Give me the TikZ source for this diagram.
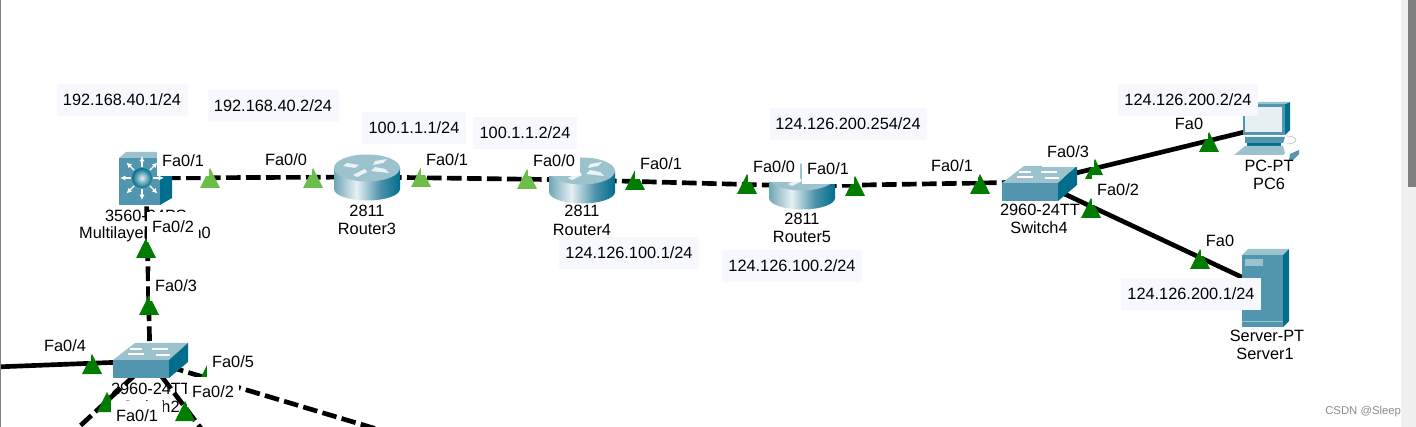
\documentclass[tikz,border=0pt]{standalone}
\usepackage{fontspec}
\setmainfont{Liberation Sans}
\usetikzlibrary{arrows.meta}
\definecolor{c1}{HTML}{9CC2CE}
\definecolor{c2}{HTML}{5196AE}
\definecolor{c3}{HTML}{4C92AA}
\definecolor{c4}{HTML}{006E8C}
\definecolor{c5}{HTML}{6FA6B6}
\definecolor{c6}{HTML}{E6F0F3}
\definecolor{ipbg}{HTML}{F7F8FE}
\definecolor{ltg}{HTML}{6CBE4B}
\definecolor{dkg}{HTML}{007C00}
\pgfdeclarehorizontalshading{rbody}{100bp}{color(0bp)=(c5);color(25bp)=(c5);color(42bp)=(c6);color(60bp)=(c3);color(75bp)=(c4);color(100bp)=(c4)}
\tikzset{
 x=0.75pt,y=-0.75pt,
 lnk/.style={line width=3.5pt,black},
 dlnk/.style={lnk,dash pattern=on 11pt off 4pt},
 iplabel/.style={fill=ipbg,font=\fontsize{12.25pt}{14pt}\selectfont,minimum width=#1*0.75pt,minimum height=23.5pt,inner sep=0pt},
 fa/.style={fill=white,font=\fontsize{12.25pt}{14pt}\selectfont,inner xsep=3.5pt,inner ysep=0pt,minimum height=23pt},
 dev/.style={font=\fontsize{12.25pt}{14pt}\selectfont,inner sep=0pt},
 lamp/.pic={\fill[#1] (-10,10)--(0,-10)--(10,10)--cycle;},
 rtr/.pic={
  \shade[shading=rbody] (-33,-9)--(-33,12) arc[start angle=180,end angle=0,x radius=33,y radius=11.5]--(33,-9)--cycle;
  \fill[c1] (0,-9) ellipse[x radius=33,y radius=13.5];
  \fill[white!80!c1] (-20,-14)--(-8,-12)--(-12,-9)--(-24,-11)--cycle;
  \fill[white!80!c1] (8,-16)--(20,-18)--(16,-14)--(6,-12)--cycle;
  \fill[white!80!c1] (4,-6)--(22,-4)--(18,-8)--(8,-10)--cycle;
  \fill[white!80!c1] (-14,-2)--(-2,-8)--(0,-5)--(-10,0)--cycle;
 },
 swt/.pic={
  \fill[c1] (-37,-1)--(-15,-18)--(38,-18)--(19,-1)--cycle;
  \fill[c2] (-37,-1) rectangle (19,17);
  \fill[c4] (19,-1)--(38,-18)--(38,1)--(19,17)--cycle;
  \draw[white,line width=1pt] (-22,-7)--(-6,-7) (2,-12)--(18,-12) (-8,-12)--(-20,-12) (6,-6)--(20,-6);
 },
 mls/.pic={
  \fill[c1] (-27,-20)--(-20,-26)--(26,-26)--(14,-20)--cycle;
  \fill[c4] (14,-20)--(26,-26)--(26,20)--(14,27)--cycle;
  \fill[c2] (-27,-20) rectangle (14,27);
  \foreach \a in {0,45,...,315}{
   \draw[white,line width=1pt,-{Latex[length=4pt,width=4pt]}] (-4,0)++(\a:11)--++(\a:11);}
  \shade[inner color=c6,outer color=c4] (-4,0) circle (10);
 },
 cpu/.pic={
  \fill[c4] (42,-28)--(47,-30)--(47,-2)--(42,3)--cycle;
  \fill[c1] (0,-28)--(6,-30)--(47,-30)--(42,-28)--cycle;
  \fill[c2] (0,-28) rectangle (42,3);
  \fill[white!75!c1] (2,-25) rectangle (39,0);
  \fill[c2] (2,5)--(42,5)--(40,11)--(2,11)--cycle;
  \fill[c4] (4,11) rectangle (38,14);
  \fill[c1] (-9,23)--(2,14)--(40,14)--(42,21)--(40,23)--cycle;
  \fill[c2] (47,22)--(56,18)--(56,22)--(50,28)--(46,28)--cycle;
  \draw[white!70!black,line width=.4pt] (44,12) arc[start angle=90,end angle=-90,x radius=9,y radius=4];
 },
 srv/.pic={
  \fill[c1] (0,-22)--(6,-28)--(47,-28)--(41,-22)--cycle;
  \fill[c4] (41,-22)--(47,-28)--(47,44)--(41,50)--cycle;
  \fill[c2] (0,-22) rectangle (41,50);
  \fill[c1] (3,-18) rectangle (21,-11);
  \draw[c1,line width=.5pt] (0,44)--(41,44);
 }
}
\begin{document}
\begin{tikzpicture}
\useasboundingbox (0,0) rectangle (1416,427);
\clip (0,0) rectangle (1416,427);
\fill[white] (0,0) rectangle (1416,427);
% device anchor points
\coordinate (ml) at (146,178);
\coordinate (r3) at (367,177);
\coordinate (r4) at (582,180);
\coordinate (r5) at (802,186);
\coordinate (sw4) at (1039,182);
\coordinate (pc) at (1265,127);
\coordinate (sv) at (1265,288);
\coordinate (sw2) at (150,361);
\coordinate (e1) at (-5,367);
\coordinate (e2) at (65,440);
\coordinate (e3) at (212,443);
\coordinate (e4) at (410,439);
% device texts
\node[dev] (t1a) at (146,216) {3560-24PS};
\node[dev] (t1b) at (145,234) {Multilayer Switch0};
\node[dev] (t2a) at (151,389) {2960-24TT};
\node[dev] (t2b) at (151,407) {Switch2};
% connectors
\draw[dlnk] (ml)--(r3);
\draw[dlnk] (r3)--(r4);
\draw[dlnk] (r4)--(r5);
\draw[dlnk] (r5)--(sw4);
\draw[lnk] (sw4)--(pc);
\draw[lnk] (sw4)--(sv);
\draw[dlnk] (sw2)--(ml);
\draw[lnk] (sw2)--(e1);
\draw[dlnk] (sw2)--(e2);
\draw[dlnk] (sw2)--(e3);
\draw[dlnk] (sw2)--(e4);
% icons
\pic at (ml) {mls};
\pic at (r3) {rtr};
\pic at (r4) {rtr};
\pic at (r5) {rtr};
\pic at (1039,184) {swt};
\pic at (sw2) {swt};
\pic at (1243,132) {cpu};
\pic at (1242,277) {srv};
% link lights
\foreach \p in {(210,178),(313,178),(421,177),(527,179)}{\pic at \p {lamp={ltg}};}
\foreach \p in {(146,248),(149,305),(92,364),(107,402),(185,411),(207,375),(635,180),(747,184),(855,186),(980,184),(1095,169),(1091,208),(1209,142),(1200,259)}{\pic at \p {lamp={dkg}};}
% device names
\node[dev] (n3a) at (367,211) {2811};
\node[dev] (n3b) at (367,229) {Router3};
\node[dev] (n4a) at (582,211) {2811};
\node[dev] (n4b) at (582,230) {Router4};
\node[dev] (n5a) at (802,219) {2811};
\node[dev] (n5b) at (802,237) {Router5};
\node[dev] (n6a) at (1040,210) {2960-24TT};
\node[dev] (n6b) at (1039,228) {Switch4};
\node[dev] (n7a) at (1269,166) {PC-PT};
\node[dev] (n7b) at (1269,184) {PC6};
\node[dev] (n8a) at (1267,336) {Server-PT};
\node[dev] (n8b) at (1265,354) {Server1};
% port labels
\node[fa] (f1) at (183,161) {Fa0/1};
\node[fa] (f2) at (286,160) {Fa0/0};
\node[fa] (f3) at (447,160) {Fa0/1};
\node[fa] (f4) at (554,161) {Fa0/0};
\node[fa] (f5) at (661,164) {Fa0/1};
\node[fa] (f6) at (774,167) {Fa0/0};
\node[fa] (f7) at (828,169) {Fa0/1};
\node[fa] (f8) at (952,166) {Fa0/1};
\node[fa] (f9) at (1068,152) {Fa0/3};
\node[fa] (f10) at (1118,190) {Fa0/2};
\node[fa] (f11) at (1189,124) {Fa0};
\node[fa] (f12) at (1220,241) {Fa0};
\node[fa] (f13) at (173,227) {Fa0/2};
\node[fa] (f14) at (176,286) {Fa0/3};
\node[fa] (f15) at (65,346) {Fa0/4};
\node[fa] (f16) at (233,362) {Fa0/5};
\node[fa] (f17) at (213,392) {Fa0/2};
\node[fa] (f18) at (137,416) {Fa0/1};
% address labels
\node[iplabel=131] (a1) at (122,100) {192.168.40.1/24};
\node[iplabel=131] (a2) at (273,106) {192.168.40.2/24};
\node[iplabel=104] (a3) at (414,128) {100.1.1.1/24};
\node[iplabel=104] (a4) at (525,133) {100.1.1.2/24};
\node[iplabel=157] (a5) at (848,124) {124.126.200.254/24};
\node[iplabel=140] (a6) at (629,253) {124.126.100.1/24};
\node[iplabel=140] (a7) at (792,266) {124.126.100.2/24};
\node[iplabel=140] (a8) at (1188,100) {124.126.200.2/24};
\node[iplabel=140] (a9) at (1191,294) {124.126.200.1/24};
% window edge and watermark
\node[anchor=west,inner sep=0pt,text=black!45,font=\fontsize{8.5pt}{10pt}\selectfont] (wm) at (1325,412) {CSDN @SleepT};
\fill[black!6] (1401,0) rectangle (1416,427);
\fill[black!50] (1408,0) rectangle (1416,187);
\fill[gray] (0,0) rectangle (1.2,427);
\end{tikzpicture}
\end{document}
